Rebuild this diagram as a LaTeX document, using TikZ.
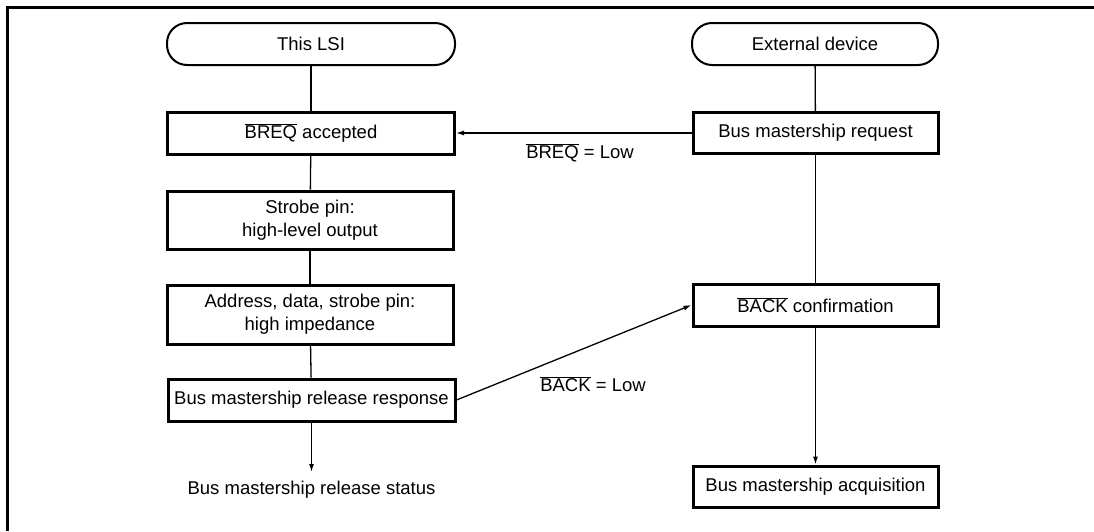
\documentclass[tikz,border=0pt]{standalone}
\usepackage{fontspec}
\setmainfont{Liberation Sans}
\usetikzlibrary{arrows.meta}
\newcommand{\ovbar}[1]{$\overline{\mbox{#1}}$}
\begin{document}
\begin{tikzpicture}[x=1pt,y=-1pt,
  font=\fontsize{18.5}{23}\selectfont,
  capsule/.style={draw,line width=2pt,rounded corners=20pt,minimum height=42pt,inner sep=0pt},
  stepbox/.style={draw,line width=3pt,minimum height=42pt,inner sep=0pt,align=center},
  link/.style={line width=1.3pt},
  arr/.style={line width=1.3pt,-{Latex[length=8pt,width=5pt]}}]
\useasboundingbox (0,0) rectangle (1094,531);
% frame (cropped)
\draw[line width=3pt] (7,531) -- (7,7) -- (1094,7);
% left column
\node[capsule,minimum width=288pt] (lsi) at (311,44) {This LSI};
\node[stepbox,minimum width=287pt] (breq) at (311,133) {\ovbar{BREQ} accepted};
\node[stepbox,minimum width=286pt,minimum height=58pt] (strobe) at (310,220) {Strobe pin:\\high-level output};
\node[stepbox,minimum width=286pt,minimum height=59pt] (addr) at (310,314.5) {Address, data, strobe pin:\\high impedance};
\node[stepbox,minimum width=287pt] (rel) at (311.5,400) {Bus mastership release response};
\node[inner sep=0pt,anchor=north] (status) at (311.5,481) {Bus mastership release status};
\coordinate (statustop) at (311.5,472);
% right column
\node[capsule,minimum width=246pt] (ext) at (815,44) {External device};
\node[stepbox,minimum width=245pt,minimum height=41pt] (req) at (815.5,133) {Bus mastership request};
\node[stepbox,minimum width=245pt] (back) at (815.5,305) {\ovbar{BACK} confirmation};
\node[stepbox,minimum width=245pt,minimum height=41pt] (acq) at (815.5,486.5) {Bus mastership acquisition};
% connectors
\draw[link] (lsi) -- (breq);
\draw[link] (breq) -- (strobe);
\draw[link] (strobe) -- (addr);
\draw[link] (addr) -- (rel);
\draw[arr] (rel) -- (statustop);
\draw[link] (ext) -- (req);
\draw[link] (req) -- (back);
\draw[arr] (back) -- (acq);
\draw[arr] (req.west) -- (breq.east);
\draw[arr] (rel.east) -- (back.west);
% labels
\node (lbreq) at (580,153) {\ovbar{BREQ} = Low};
\node (lback) at (593,384) {\ovbar{BACK} = Low};
\end{tikzpicture}
\end{document}
